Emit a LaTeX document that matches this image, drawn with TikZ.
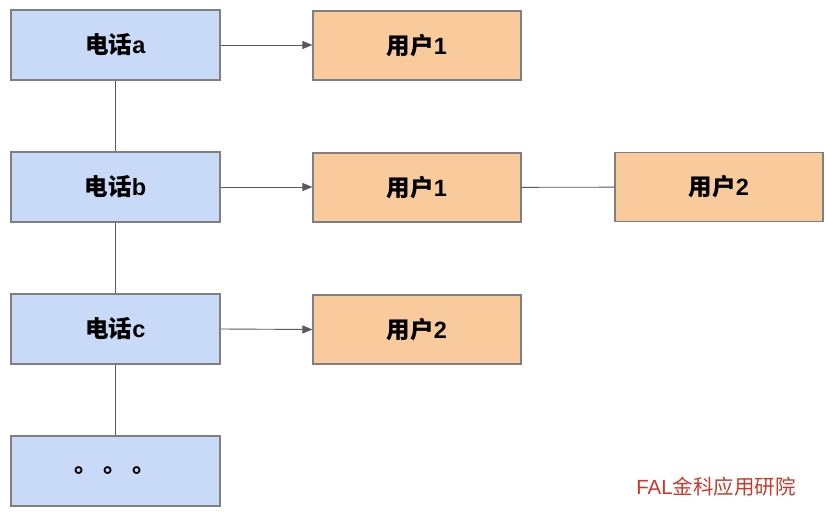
\documentclass[tikz,border=0pt]{standalone}
\usepackage{fontspec}
\setmainfont{Liberation Sans}
\newfontfamily\cjk{Noto Sans CJK SC}
\usetikzlibrary{arrows.meta}
\definecolor{bluefill}{HTML}{C9DAF8}
\definecolor{orangefill}{HTML}{F9CB9C}
\definecolor{edgegray}{HTML}{7F7F7F}
\definecolor{linegray}{HTML}{595959}
\definecolor{markred}{HTML}{C8392B}
\tikzset{
  phonebox/.style={draw=edgegray, line width=1.2pt, fill=bluefill, minimum width=209pt, minimum height=70pt, inner sep=0pt, font=\fontsize{23.5}{26}\selectfont\bfseries},
  userbox/.style={draw=edgegray, line width=1.2pt, fill=orangefill, minimum width=208pt, minimum height=69pt, inner sep=0pt, font=\fontsize{23.5}{26}\selectfont\bfseries},
  link/.style={draw=linegray, line width=0.9pt},
  arrowlink/.style={link, -{Triangle[length=10pt, width=8pt]}}
}
\begin{document}
\begin{tikzpicture}[x=1pt, y=-1pt]
\useasboundingbox (0,0) rectangle (826,524);
\node[phonebox] (pa) at (115.5,45) {{\cjk\bfseries 电话}a};
\node[phonebox] (pb) at (115.5,187) {{\cjk\bfseries 电话}b};
\node[phonebox] (pc) at (115.5,329) {{\cjk\bfseries 电话}c};
\node[phonebox] (pd) at (115.5,471) {{\cjk\bfseries 。 。 。}};
\node[userbox] (ua) at (417,45.5) {{\cjk\bfseries 用户}1};
\node[userbox] (ub1) at (417,187.5) {{\cjk\bfseries 用户}1};
\node[userbox] (ub2) at (719,187) {{\cjk\bfseries 用户}2};
\node[userbox] (uc) at (417,329.5) {{\cjk\bfseries 用户}2};
\draw[link] (pa) -- (pb);
\draw[link] (pb) -- (pc);
\draw[link] (pc) -- (pd);
\draw[arrowlink] (pa.east) -- (ua.west |- pa.east);
\draw[arrowlink] (pb.east) -- (ub1.west |- pb.east);
\draw[arrowlink] (pc.east) -- (uc.west);
\draw[link] (ub1) -- (ub2);
\node[text=markred, font=\fontsize{20.5}{22}\selectfont, inner sep=0pt] (mark) at (716,487) {FAL{\cjk 金科应用研院}};
\end{tikzpicture}
\end{document}
